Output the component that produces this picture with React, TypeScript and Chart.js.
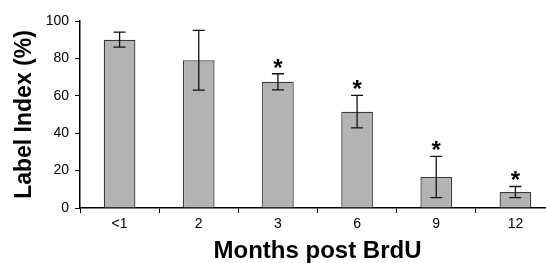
import React, { useEffect, useRef } from "react";
import { Chart, registerables } from "chart.js";

Chart.register(...registerables);

const categories = ["<1", "2", "3", "6", "9", "12"];
const labelIndex = [90, 79, 67.5, 51.5, 16.6, 8.5];
const errors = [4, 16, 4.3, 8.7, 11, 3];
const significant = [false, false, true, true, true, true];
const yTicks = [0, 20, 40, 60, 80, 100];

const FONT = "'Liberation Sans', Arial, Helvetica, sans-serif";

const errorBarPlugin = {
  id: "errorBars",
  afterDatasetsDraw(chart: any) {
    const ctx = chart.ctx;
    const yScale = chart.scales.y;
    const meta = chart.getDatasetMeta(0);
    ctx.save();
    ctx.strokeStyle = "#111";
    ctx.lineWidth = 1.3;
    meta.data.forEach((bar: any, i: number) => {
      const x = bar.x;
      const v = labelIndex[i];
      const e = errors[i];
      const yTop = yScale.getPixelForValue(v + e);
      const yBot = yScale.getPixelForValue(v - e);
      const cap = 6;
      ctx.beginPath();
      ctx.moveTo(x, yTop);
      ctx.lineTo(x, yBot);
      ctx.moveTo(x - cap, yTop);
      ctx.lineTo(x + cap, yTop);
      ctx.moveTo(x - cap, yBot);
      ctx.lineTo(x + cap, yBot);
      ctx.stroke();
      if (significant[i]) {
        ctx.fillStyle = "#000";
        ctx.font = `bold 24px ${FONT}`;
        ctx.textAlign = "center";
        ctx.textBaseline = "alphabetic";
        ctx.fillText("*", x, yTop + 2);
      }
    });
    ctx.restore();
  },
};

export default function App() {
  const ref = useRef<HTMLCanvasElement | null>(null);

  useEffect(() => {
    if (!ref.current) return;
    const chart = new Chart(ref.current, {
      type: "bar",
      data: {
        labels: categories,
        datasets: [
          {
            data: labelIndex,
            backgroundColor: "#b3b3b3",
            borderColor: "#3a3a3a",
            borderWidth: 1.3,
            categoryPercentage: 1,
            barPercentage: 0.4,
          },
        ],
      },
      options: {
        animation: false,
        responsive: false,
        maintainAspectRatio: false,
        layout: { padding: { left: 0, right: 5, top: 21, bottom: 0 } },
        plugins: {
          legend: { display: false },
          tooltip: { enabled: false },
        },
        scales: {
          x: {
            afterFit: (s: any) => {
              s.height = 55;
            },
            grid: {
              offset: true,
              drawOnChartArea: false,
              drawTicks: true,
              tickLength: 5,
              color: "#000",
              lineWidth: 1,
            },
            border: { display: true, color: "#000", width: 1.5 },
            ticks: {
              color: "#000",
              font: { family: FONT, size: 14 },
              padding: 3,
              maxRotation: 0,
            },
            title: {
              display: true,
              text: "Months post BrdU",
              color: "#000",
              font: { family: FONT, size: 24, weight: "bold", lineHeight: 1 },
              padding: { top: 0, bottom: 0 },
            },
          },
          y: {
            min: 0,
            max: 100,
            afterFit: (s: any) => {
              s.width = 80;
            },
            afterBuildTicks: (s: any) => {
              s.ticks = yTicks.map((v) => ({ value: v }));
            },
            grid: {
              drawOnChartArea: false,
              drawTicks: true,
              tickLength: 5,
              color: "#000",
              lineWidth: 1,
            },
            border: { display: true, color: "#000", width: 1.5 },
            ticks: {
              color: "#000",
              font: { family: FONT, size: 14 },
              padding: 6,
            },
            title: {
              display: true,
              text: "Label Index (%)",
              color: "#000",
              font: { family: FONT, size: 23, weight: "bold", lineHeight: 1 },
              padding: { top: 13, bottom: 0 },
            },
          },
        },
      },
      plugins: [errorBarPlugin],
    });
    return () => chart.destroy();
  }, []);

  return (
    <div
      style={{
        position: "absolute",
        left: 0,
        top: 0,
        width: 546,
        height: 263,
        overflow: "hidden",
        background: "#fff",
      }}
    >
      <canvas ref={ref} width={560} height={263} style={{ display: "block" }} />
    </div>
  );
}
